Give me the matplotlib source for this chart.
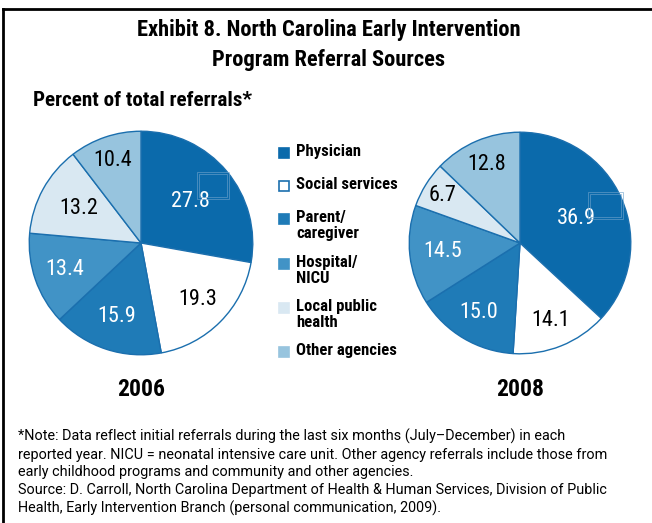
import matplotlib
matplotlib.use("Agg")
import matplotlib.pyplot as plt
from matplotlib.patches import Rectangle
import numpy as np

# referral sources, in drawing order (clockwise from 12 o'clock)
sources = ["Physician", "Social services", "Parent/\ncaregiver", "Hospital/\nNICU",
           "Local public\nhealth", "Other agencies"]
pct_2006 = [27.8, 19.3, 15.9, 13.4, 13.2, 10.4]
pct_2008 = [36.9, 14.1, 15.0, 14.5, 6.7, 12.8]

colors = ["#0b6aab", "#ffffff", "#1f7bb7", "#4193c6", "#d9e8f2", "#97c4de"]
label_colors = ["white", "black", "white", "white", "black", "black"]
edge = "#1b6fae"

# distance of the number labels from the pie centre (fraction of radius)
dist_2006 = [0.58, 0.72, 0.69, 0.72, 0.64, 0.78]
dist_2008 = [0.56, 0.75, 0.73, 0.70, 0.82, 0.77]

W, H = 652, 523
fig = plt.figure(figsize=(W / 100, H / 100), dpi=100)
fig.patch.set_facecolor("white")

NARROW = ["Roboto Condensed", "Liberation Sans Narrow", "DejaVu Sans"]
PLAIN = ["Roboto", "DejaVu Sans"]


def px_axes(cx, cy, r):
    # axes box in pixel coords (y measured from the top)
    return fig.add_axes([(cx - r) / W, (H - cy - r) / H, 2 * r / W, 2 * r / H])


def draw_pie(cx, cy, r, values, dists, year):
    ax = px_axes(cx, cy, r)
    wedges, _ = ax.pie(values, colors=colors, startangle=90, counterclock=False,
                       radius=1.0, wedgeprops=dict(edgecolor=edge, linewidth=1.0))
    ax.set_xlim(-1.02, 1.02)
    ax.set_ylim(-1.02, 1.02)
    ax.set_aspect("equal")
    ax.axis("off")
    for w, v, d, c in zip(wedges, values, dists, label_colors):
        mid = np.deg2rad((w.theta1 + w.theta2) / 2)
        ax.text(d * np.cos(mid), d * np.sin(mid), f"{v:.1f}", ha="center", va="center",
                fontsize=16, color=c, family=NARROW)
    fig.text(cx / W, 1 - (cy + 147) / H, year, ha="center", va="center",
             fontsize=17, fontweight="bold", family=NARROW)
    return ax, wedges


ax06, w06 = draw_pie(141, 243, 114, pct_2006, dist_2006, "2006")
ax08, w08 = draw_pie(520, 243, 113, pct_2008, dist_2008, "2008")

# faint boxes sitting over the physician wedges
for x0, y0, x1, y1 in [(197, 172, 229, 199), (588, 192, 623, 219)]:
    for off in (0, 2):
        fig.patches.append(Rectangle(((x0 + off) / W, 1 - (y1 - off) / H),
                                     (x1 - x0 - 2 * off) / W, (y1 - y0 - 2 * off) / H,
                                     transform=fig.transFigure, fill=False,
                                     edgecolor="#6fa3cc", linewidth=0.6, alpha=0.7))

# legend
leg_y = [153, 186, 219, 264, 308, 352]
for name, col, y in zip(sources, colors, leg_y):
    fig.patches.append(Rectangle((279 / W, 1 - (y + 5) / H), 10 / W, 10 / H,
                                 transform=fig.transFigure, facecolor=col,
                                 edgecolor=edge if col == "#ffffff" else col, linewidth=1.2))
    fig.text(296 / W, 1 - (y - 9) / H, name, ha="left", va="top", fontsize=12,
             fontweight="bold", family=NARROW, linespacing=1.1)

# titles
fig.text(329 / W, 1 - 30 / H, "Exhibit 8. North Carolina Early Intervention",
         ha="center", va="center", fontsize=16.2, fontweight="bold", family=NARROW)
fig.text(329 / W, 1 - 60 / H, "Program Referral Sources",
         ha="center", va="center", fontsize=16.2, fontweight="bold", family=NARROW)
fig.text(33 / W, 1 - 100 / H, "Percent of total referrals*",
         ha="left", va="center", fontsize=15.2, fontweight="bold", family=NARROW)

note = ("*Note: Data reflect initial referrals during the last six months (July\u2013December) in each\n"
        "reported year. NICU = neonatal intensive care unit. Other agency referrals include those from\n"
        "early childhood programs and community and other agencies.\n"
        "Source: D. Carroll, North Carolina Department of Health & Human Services, Division of Public\n"
        "Health, Early Intervention Branch (personal communication, 2009).")
fig.text(18 / W, 1 - 429 / H, note, ha="left", va="top", fontsize=10.4,
         family=PLAIN, linespacing=1.32)

# frame (top and left edges)
fig.lines.append(plt.Line2D([3 / W, 1], [1 - 9 / H, 1 - 9 / H], transform=fig.transFigure,
                            color="black", linewidth=2))
fig.lines.append(plt.Line2D([3 / W, 3 / W], [0, 1 - 9 / H], transform=fig.transFigure,
                            color="black", linewidth=2))

fig.savefig("out.png", dpi=100)
